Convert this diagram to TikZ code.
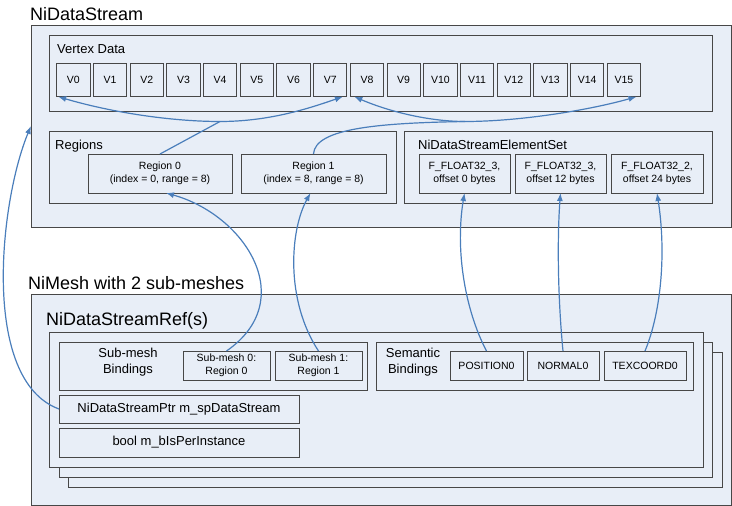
\documentclass[tikz,border=0pt]{standalone}
\usepackage{fontspec}
\setmainfont{Liberation Sans}
\usetikzlibrary{arrows.meta,calc}
\definecolor{boxfill}{HTML}{E8EEF7}
\definecolor{boxline}{HTML}{474747}
\definecolor{conncol}{HTML}{4A7EBB}
\tikzset{
  frame/.style={draw=boxline, line width=1pt, fill=boxfill, inner sep=0pt, outer sep=0pt},
  small/.style={font=\fontsize{10.5}{12.5}\selectfont, align=center},
  medium/.style={font=\fontsize{13}{16.5}\selectfont, align=center},
  big/.style={font=\fontsize{18}{21}\selectfont},
  title/.style={anchor=base west, inner sep=0pt},
  tip/.tip={Latex[length=8pt,width=6pt]},
  conn/.style={draw=conncol, line width=1.2pt, -tip},
  both/.style={tip-tip},
}
\newcommand\bx[7]{%
  \pgfmathsetmacro\bxcx{(#2+#4)/2}\pgfmathsetmacro\bxcy{(#3+#5)/2}%
  \pgfmathsetmacro\bxw{#4-#2}\pgfmathsetmacro\bxh{#5-#3}%
  \node[frame,#6,minimum width=\bxw pt,minimum height=\bxh pt] (#1) at (\bxcx,\bxcy) {#7};}
\begin{document}
\begin{tikzpicture}[x=1pt,y=-1pt]
\useasboundingbox (0,0) rectangle (732,506);
% ---------- NiDataStream ----------
\node[title,big] (t1) at (30,20) {NiDataStream};
\bx{dsouter}{31}{25}{731}{227}{}{}
\bx{vdata}{49}{35}{712}{111}{}{}
\node[title,medium] (t2) at (57,53) {Vertex Data};
\foreach \i in {0,...,15} {
  \pgfmathsetmacro\xa{56.7+36.7*\i}
  \pgfmathsetmacro\xb{\xa+33.3}
  \bx{v\i}{\xa}{63.3}{\xb}{96.7}{small}{V\i}
}
\bx{regions}{49}{131}{396}{203}{}{}
\node[title,medium] (t3) at (55,149) {Regions};
\bx{r0}{88}{154}{232}{193}{small}{Region 0\\(index = 0, range = 8)}
\bx{r1}{241}{154}{386}{193}{small}{Region 1\\(index = 8, range = 8)}
\bx{elset}{404}{131}{712}{203}{}{}
\node[title,medium] (t4) at (418,149) {NiDataStreamElementSet};
\bx{f1}{419}{154}{510}{193}{small}{F\_FLOAT32\_3,\\offset 0 bytes}
\bx{f2}{515}{154}{606}{193}{small}{F\_FLOAT32\_3,\\offset 12 bytes}
\bx{f3}{611}{154}{703}{193}{small}{F\_FLOAT32\_2,\\offset 24 bytes}
% ---------- NiMesh ----------
\node[title,big] (t5) at (28,289) {NiMesh with 2 sub-meshes};
\bx{meshouter}{31}{294}{731}{505}{}{}
\node[title,big] (t6) at (46,325) {NiDataStreamRef(s)};
\bx{stack3}{68}{352}{722}{487}{}{}
\bx{stack2}{59}{342}{712}{477}{}{}
\bx{ref}{49}{332}{703}{467}{}{}
\bx{subbind}{59}{342}{367}{390}{}{}
\node[medium] (t7) at (128,362) {Sub-mesh\\Bindings};
\bx{sm0}{183}{351}{270}{380}{small}{Sub-mesh 0:\\Region 0}
\bx{sm1}{275}{351}{362}{380}{small}{Sub-mesh 1:\\Region 1}
\bx{sembind}{376}{342}{693}{390}{}{}
\node[medium] (t8) at (413,362) {Semantic\\Bindings};
\bx{pos}{450}{351}{523}{380}{small}{POSITION0}
\bx{nor}{527}{351}{599}{380}{small}{NORMAL0}
\bx{tex}{604}{351}{686}{380}{small}{TEXCOORD0}
\bx{ptr}{59}{395}{299}{423}{medium}{NiDataStreamPtr m\_spDataStream}
\bx{bool}{59}{428}{299}{457}{medium}{bool m\_bIsPerInstance}
% ---------- connectors ----------
\coordinate (j0) at (220,121.5);
\coordinate (j1) at (465,121.5);
\draw[conn,both] ([xshift=1.5pt]v0.south west) .. controls (110,112) and (170,121.5) .. (j0)
  .. controls (270,121.5) and (310,108) .. ([xshift=-4pt]v7.south east);
\draw[conn,-] (r0.north) -- (j0);
\draw[conn,both] ([xshift=4pt]v8.south west) .. controls (390,112) and (430,121.5) .. (j1)
  .. controls (520,121.5) and (590,110) .. ([xshift=-4pt]v15.south east);
\draw[conn,-] (r1.north) .. controls (315,128) and (380,123) .. (j1);
\draw[conn] (sm0.north) .. controls (300,300) and (245,215) .. ([xshift=6pt]r0.south);
\draw[conn] (sm1.north) .. controls (285,300) and (290,230) .. ([xshift=-3pt]r1.south);
\draw[conn] (ptr.west) .. controls (-20,380) and (0,200) .. (dsouter.west);
\draw[conn] (pos.north) .. controls (465,310) and (455,250) .. (f1.south);
\draw[conn] (nor.north) .. controls (558,300) and (557,240) .. (f2.south);
\draw[conn] (tex.north) .. controls (662,310) and (666,250) .. (f3.south);
\end{tikzpicture}
\end{document}
